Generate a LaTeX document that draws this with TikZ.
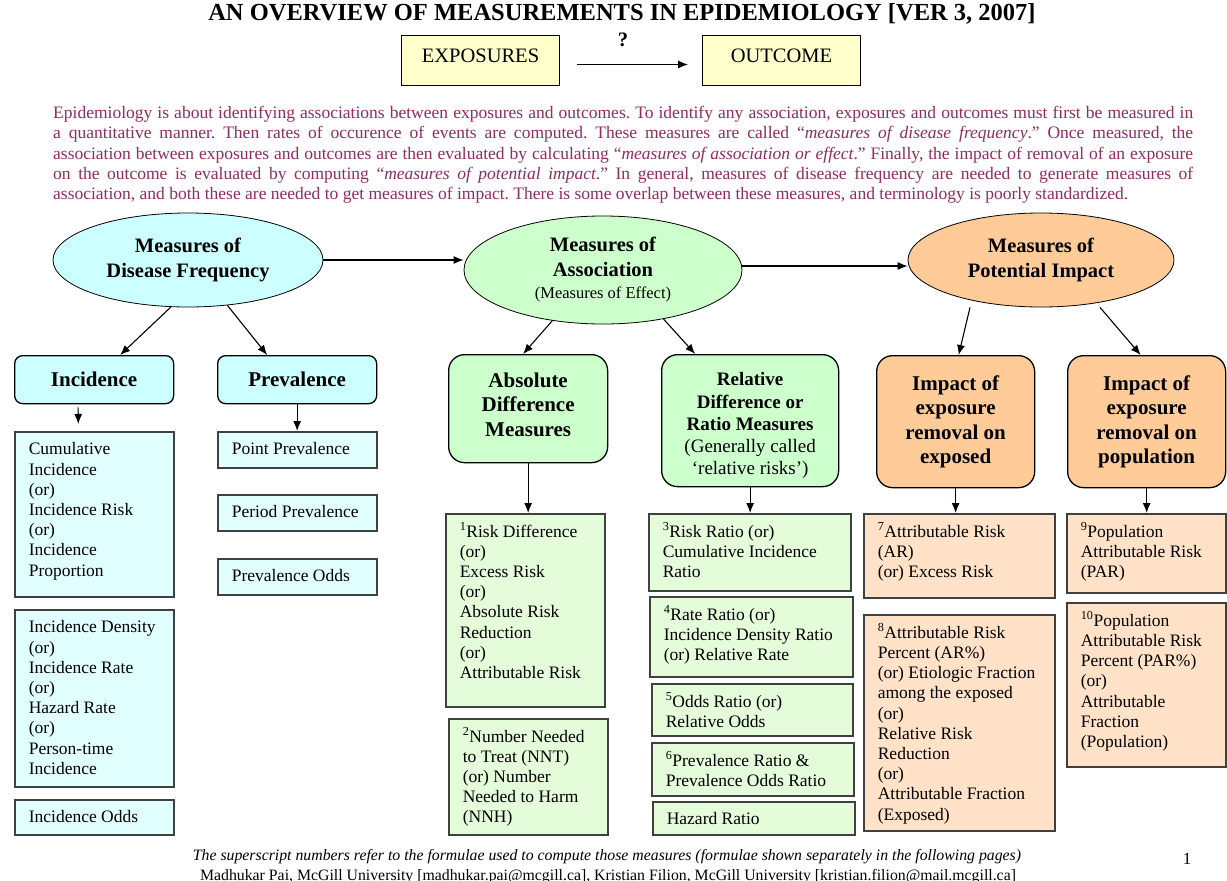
\documentclass[tikz,border=0pt]{standalone}
\usepackage{fontspec}
\setmainfont{Liberation Serif}
\usetikzlibrary{shapes.geometric,arrows.meta}

\definecolor{freqfill}{RGB}{204,255,255}
\definecolor{freqlist}{RGB}{225,255,255}
\definecolor{assocfill}{RGB}{204,255,204}
\definecolor{assoclist}{RGB}{228,252,218}
\definecolor{impactfill}{RGB}{255,204,153}
\definecolor{impactlist}{RGB}{255,226,200}
\definecolor{expofill}{RGB}{255,255,204}
\definecolor{introtext}{RGB}{146,44,96}

\newcommand{\listfont}{\fontsize{17.5}{20.2}\selectfont}
\newcommand{\headfont}{\fontsize{21}{24.5}\selectfont\bfseries}
\newcommand{\inbox}[3]{\parbox[c][\dimexpr#2pt-18pt\relax][t]{\dimexpr#1pt-28pt\relax}{\listfont\raggedright\strut#3}}

\tikzset{
	measure/.style={ellipse, draw=black, line width=0.8pt, inner sep=0pt, align=center, font=\fontsize{20.5}{25}\selectfont\bfseries},
	headbox/.style={draw=black, line width=1.3pt, rounded corners=16pt, anchor=north west, inner sep=0pt, align=center, font=\headfont},
	listbox/.style={draw=black!75, line width=1.6pt, anchor=north west, inner xsep=14pt, inner ysep=9pt},
	topbox/.style={draw=black, line width=1pt, fill=expofill, anchor=north west, minimum width=158pt, minimum height=50pt, inner sep=0pt, font=\fontsize{20.5}{24}\selectfont},
	arr/.style={-{Latex[length=10pt,width=8pt]}, line width=1.1pt}
}

\begin{document}
\begin{tikzpicture}[x=1pt,y=-1pt]
	\useasboundingbox (0,0) rectangle (1227,881);
	\fill[white] (0,0) rectangle (1227,881);
	\node[font=\fontsize{24.5}{28}\selectfont\bfseries] (title) at (622,14) {AN OVERVIEW OF MEASUREMENTS IN EPIDEMIOLOGY [VER 3, 2007]};
	\node[topbox] (expo) at (401,35) {\raisebox{5pt}[\height][\depth]{EXPOSURES}};
	\node[topbox] (outcome) at (702,35) {\raisebox{5pt}[\height][\depth]{OUTCOME}};
	\node[font=\fontsize{20.5}{24}\selectfont\bfseries] (qmark) at (623,40) {?};
	\draw[arr] ([xshift=17pt,yshift=-4pt]expo.east) -- ([xshift=-14pt,yshift=-4pt]outcome.west);
	\node[anchor=north west, inner sep=0pt, text width=1140pt, align=justify, text=introtext, font=\fontsize{17.5}{20.3}\selectfont\frenchspacing] (intro) at (53,104) {%
		\strut Epidemiology is about identifying associations between exposures and outcomes. To identify any association, exposures and outcomes must first be measured in\linebreak
		a quantitative manner. Then rates of occurence of events are computed. These measures are called “\textit{measures of disease frequency}.” Once measured, the\linebreak
		association between exposures and outcomes are then evaluated by calculating “\textit{measures of association or effect}.” Finally, the impact of removal of an exposure\linebreak
		on the outcome is evaluated by computing “\textit{measures of potential impact}.” In general, measures of disease frequency are needed to generate measures of\linebreak
		association, and both these are needed to get measures of impact. There is some overlap between these measures, and terminology is poorly standardized.};

	\node[measure, fill=freqfill, minimum width=270pt, minimum height=94pt] (freq) at (188,260) {Measures of\\Disease Frequency};
	\node[measure, fill=assocfill, minimum width=278pt, minimum height=108pt] (assoc) at (603,270) {Measures of\\Association\\[-3pt]{\fontsize{16.5}{20}\selectfont\mdseries (Measures of Effect)}};
	\node[measure, fill=impactfill, minimum width=266pt, minimum height=94pt] (impact) at (1041,260) {Measures of\\Potential Impact};
	\draw[arr] (freq.east) -- ([yshift=10pt]assoc.west);
	\draw[arr] ([yshift=4pt]assoc.east) -- ([yshift=-6pt]impact.west);

	\node[headbox, rounded corners=8pt, fill=freqfill, minimum width=159pt, minimum height=48pt] (incid) at (14,355) {Incidence};
	\node[headbox, rounded corners=8pt, fill=freqfill, minimum width=159pt, minimum height=48pt] (preval) at (217,355) {Prevalence};
	\node[headbox, fill=assocfill, minimum width=159pt, minimum height=108pt] (absdiff) at (448,354) {Absolute\\Difference\\Measures\rule[-8pt]{0pt}{0pt}};
	\node[headbox, fill=assocfill, minimum width=177pt, minimum height=132pt, font=\fontsize{19}{22.2}\selectfont\bfseries] (reldiff) at (661,354) {\rule{0pt}{23.5pt}Relative\\Difference or\\Ratio Measures\\{\mdseries (Generally called}\\{\mdseries ‘relative risks’)}};
	\node[headbox, fill=impactfill, minimum width=158pt, minimum height=132pt] (impexp) at (876,355) {Impact of\\exposure\\removal on\\exposed};
	\node[headbox, fill=impactfill, minimum width=158pt, minimum height=132pt] (imppop) at (1067,355) {Impact of\\exposure\\removal on\\population};
	\draw[arr] (freq.250) -- ([xshift=26pt]incid.north);
	\draw[arr] (freq.311) -- ([xshift=-30pt]preval.north);
	\draw[arr] (assoc.225) -- ([xshift=-5pt]absdiff.north);
	\draw[arr] (assoc.321) -- ([xshift=-55pt]reldiff.north);
	\draw[arr] ([xshift=-71pt]impact.south) -- ([xshift=3pt]impexp.north);
	\draw[arr] ([xshift=59pt]impact.south) -- ([xshift=-6pt]imppop.north);

	\node[listbox, fill=freqlist] (incA) at (14,431) {\inbox{159}{165}{Cumulative\\Incidence\\(or)\\Incidence Risk\\(or)\\Incidence\\Proportion}};
	\node[listbox, fill=freqlist] (incB) at (14,609) {\inbox{159}{177}{Incidence Density\\(or)\\Incidence Rate\\(or)\\Hazard Rate\\(or)\\Person-time\\Incidence}};
	\node[listbox, fill=freqlist] (incC) at (14,799) {\inbox{159}{35}{Incidence Odds}};
	\node[listbox, fill=freqlist] (prvA) at (217,431) {\inbox{159}{36}{Point Prevalence}};
	\node[listbox, fill=freqlist] (prvB) at (217,494) {\inbox{159}{36}{Period Prevalence}};
	\node[listbox, fill=freqlist] (prvC) at (217,558) {\inbox{159}{36}{Prevalence Odds}};
	\draw[arr] ([xshift=-16pt,yshift=-3pt]incid.south) -- ([xshift=-16pt,yshift=7pt]incA.north);
	\draw[arr] (preval.south) -- (preval.south |- prvA.north);

	\node[listbox, fill=assoclist] (absA) at (445,513) {\inbox{159}{193}{\textsuperscript{1}Risk Difference\\(or)\\Excess Risk\\(or)\\Absolute Risk\\Reduction\\(or)\\Attributable Risk}};
	\node[listbox, fill=assoclist] (absB) at (448,718) {\inbox{159}{116}{\textsuperscript{2}Number Needed\\to Treat (NNT)\\(or) Number\\Needed to Harm\\(NNH)}};
	\node[listbox, fill=assoclist] (relA) at (648,513) {\inbox{202}{77}{\textsuperscript{3}Risk Ratio (or)\\Cumulative Incidence\\Ratio}};
	\node[listbox, fill=assoclist] (relB) at (649,596) {\inbox{203}{80}{\textsuperscript{4}Rate Ratio (or)\\Incidence Density Ratio\\(or) Relative Rate}};
	\node[listbox, fill=assoclist] (relC) at (651,683) {\inbox{201}{52}{\textsuperscript{5}Odds Ratio (or)\\Relative Odds}};
	\node[listbox, fill=assoclist] (relD) at (651,742) {\inbox{202}{53}{\textsuperscript{6}Prevalence Ratio \&\\Prevalence Odds Ratio}};
	\node[listbox, fill=assoclist] (relE) at (652,801) {\inbox{202}{33}{Hazard Ratio}};
	\draw[arr] (absdiff.south) -- (absdiff.south |- absA.north);
	\draw[arr] (reldiff.south) -- (reldiff.south |- relA.north);

	\node[listbox, fill=impactlist] (expA) at (863,513) {\inbox{191}{84}{\textsuperscript{7}Attributable Risk\\(AR)\\(or) Excess Risk}};
	\node[listbox, fill=impactlist] (expB) at (863,614) {\inbox{191}{216}{\textsuperscript{8}Attributable Risk\\Percent (AR\%)\\(or) Etiologic Fraction\\among the exposed\\(or)\\Relative Risk\\Reduction\\(or)\\Attributable Fraction\\(Exposed)}};
	\node[listbox, fill=impactlist] (popA) at (1066,513) {\inbox{159}{79}{\textsuperscript{9}Population\\Attributable Risk\\(PAR)}};
	\node[listbox, fill=impactlist] (popB) at (1066,602) {\inbox{159}{164}{\textsuperscript{10}Population\\Attributable Risk\\Percent (PAR\%)\\(or)\\Attributable\\Fraction\\(Population)}};
	\draw[arr] (impexp.south) -- (impexp.south |- expA.north);
	\draw[arr] (imppop.south) -- (imppop.south |- popA.north);

	\node[font=\fontsize{15.8}{18}\selectfont\itshape] (note) at (607,857) {The superscript numbers refer to the formulae used to compute those measures (formulae shown separately in the following pages)};
	\node[anchor=base, font=\fontsize{15.8}{18}\selectfont] (authors) at (608,880) {Madhukar Pai, McGill University [madhukar.pai@mcgill.ca], Kristian Filion, McGill University [kristian.filion@mail.mcgill.ca]};
	\node[font=\fontsize{17}{20}\selectfont] (pagenum) at (1187,859) {1};
\end{tikzpicture}
\end{document}
